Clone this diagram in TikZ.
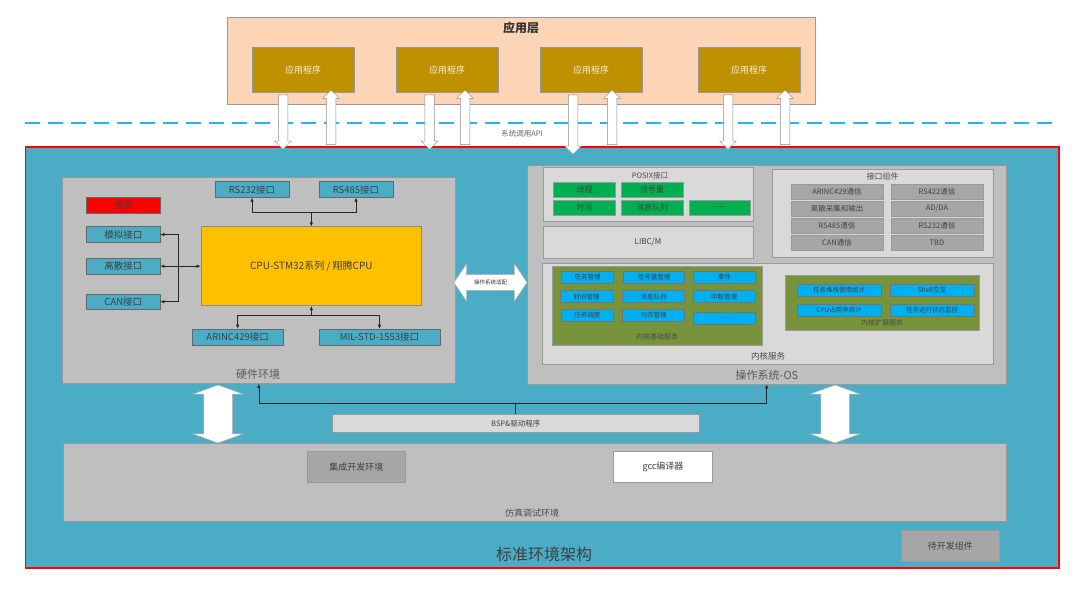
\documentclass[tikz,border=0pt]{standalone}
\usepackage{fontspec}
\setmainfont{Noto Sans CJK SC}
\usetikzlibrary{arrows.meta,shapes.arrows,positioning}
\definecolor{mainblue}{HTML}{4BACC6}
\definecolor{peach}{HTML}{FBD5B5}
\definecolor{gold}{HTML}{BF9000}
\definecolor{envgray}{HTML}{BFBFBF}
\definecolor{lightgray}{HTML}{D9D9D9}
\definecolor{midgray}{HTML}{A6A6A6}
\definecolor{cpuyellow}{HTML}{FFC000}
\definecolor{posixgreen}{HTML}{00B050}
\definecolor{olivegreen}{HTML}{77933C}
\definecolor{skyblue}{HTML}{00B0F0}
\definecolor{apiblue}{HTML}{26B4EC}
\newcommand\fs[1]{\fontsize{#1}{#1}\selectfont}

\begin{document}
\begin{tikzpicture}[x=1pt, y=-1pt,
    sz/.style 2 args={minimum width=#1, minimum height=#2},
    blk/.style={draw=black!40, line width=0.6pt, inner sep=0pt, text=black!75, font=\fs{9}},
    env/.style={blk, fill=envgray},
    hwbox/.style={blk, draw=black!60, fill=mainblue, font=\fs{9.5}},
    grn/.style={blk, fill=posixgreen, font=\fs{8}},
    cyn/.style={blk, draw=black!55, fill=skyblue, font=\fs{6.5}},
    ifbox/.style={blk, fill=midgray, font=\fs{7.5}},
    lbl/.style={inner sep=0pt, text=black!70},
    link/.style={draw=black!85, line width=0.7pt, -{Latex[length=4pt,width=3.5pt]}},
    apparrow/.style={single arrow, draw=black!45, fill=white, line width=0.5pt,
      inner sep=4.5pt, single arrow head extend=3.5pt, minimum height=#1},
    bigarrow/.style={double arrow, draw=black!30, fill=white, line width=0.5pt,
      inner sep=14pt, double arrow head extend=11pt, double arrow tip angle=140,
      minimum height=58}]
  \fill[white] (0,0) rectangle (1080,590);
  \useasboundingbox (0,0) rectangle (1080,590);

  % application layer
  \node[blk, fill=peach, sz={588}{87}] (applayer) at (521,60.5) {};
  \node[lbl, font=\fs{12}\bfseries, text=black!80] (apptitle) at (521,28) {应用层};
  \foreach \x [count=\i] in {303,447,591,749}
    \node[blk, fill=gold, text=white!85!gold, font=\fs{9}, sz={102}{45}] (app\i) at (\x,70) {应用程序};

  \coordinate (apil) at (25,123);
  \coordinate (apir) at (1057,123);
  \draw[apiblue, line width=2.2pt, dash pattern=on 15pt off 8pt] (apil) -- (apir);
  \node[lbl, font=\fs{7.5}, text=black!60] (api) at (522,134) {系统调用API};

  % standard environment
  \node[draw=red, line width=1.4pt, fill=mainblue, sz={1033.5}{421}] (std) at (542.25,357.5) {};
  \node[lbl, font=\fs{16}, text=black!75] (stdtitle) at (544,554) {标准环境架构};

  \foreach \x [count=\i] in {283,429.5,728}
    \node[apparrow=54.5, shape border rotate=270] (down\i) at (\x,119.75) {};
  \node[apparrow=59.5, shape border rotate=270] (down4) at (573,122.25) {};
  \foreach \x [count=\i] in {331,465,612,785}
    \node[apparrow=54.5, shape border rotate=90] (up\i) at (\x,119.75) {};

  % hardware
  \node[env, sz={392.3}{206.5}] (hw) at (258.85,280.25) {};
  \node[lbl, font=\fs{11}, text=black!65] (hwtitle) at (258,374) {硬件环境};
  \node[hwbox, fill=red, sz={73.3}{16}] (power) at (123.35,205.3) {电源};
  \node[hwbox, sz={73.3}{15.6}] (analog) at (123.35,234.5) {模拟接口};
  \node[hwbox, sz={73.3}{15.6}] (discrete) at (123.35,266.2) {离散接口};
  \node[hwbox, sz={73.3}{15.6}] (can) at (123.35,301.65) {CAN接口};
  \node[hwbox, sz={74}{15.6}] (rs232) at (252,189.5) {RS232接口};
  \node[hwbox, sz={73.7}{15.6}] (rs485) at (356,189.5) {RS485接口};
  \node[blk, draw=black!45, fill=cpuyellow, font=\fs{10}, sz={220.7}{79}] (cpu) at (311.35,266.2) {CPU-STM32系列 / 翔腾CPU};
  \node[hwbox, sz={91.3}{16}] (arinc) at (237.65,337) {ARINC429接口};
  \node[hwbox, sz={121}{16}] (mil) at (379.5,337) {MIL-STD-1553接口};

  \coordinate (tbus) at (311.35,212.3);
  \draw[link] (tbus) -| (rs232);
  \draw[link] (tbus) -| (rs485);
  \draw[link] (tbus) -- (tbus |- cpu.north);
  \coordinate (lbus) at (178.3,266.2);
  \draw[link] (lbus) |- (analog);
  \draw[link] (lbus) -- (discrete);
  \draw[link] (lbus) |- (can);
  \draw[link] (lbus) -- (lbus -| cpu.west);
  \coordinate (bbus) at (311.35,315.7);
  \draw[link] (bbus) -| (arinc);
  \draw[link] (bbus) -| (mil);
  \draw[link] (bbus) -- (bbus |- cpu.south);

  % operating system
  \node[env, sz={478.7}{218.7}] (os) at (766.65,274.65) {};
  \node[lbl, font=\fs{11}, text=black!65] (ostitle) at (767,375) {操作系统-OS};

  \node[blk, fill=lightgray, sz={210}{54.4}] (posix) at (648,194.5) {};
  \node[lbl, font=\fs{7.5}] (posixtitle) at (650,175.7) {POSIX接口};
  \node[grn, sz={62}{15}] (thread) at (584.5,189.5) {线程};
  \node[grn, sz={62}{15}] (sem) at (652,189.5) {信号量};
  \node[grn, sz={62}{15}] (time) at (584.5,207.5) {时间};
  \node[grn, sz={62}{15}] (msgq) at (652,207.5) {消息队列};
  \node[grn, sz={61}{15}] (pmore) at (719.5,207.5) {......};
  \node[blk, fill=lightgray, font=\fs{8}, sz={210}{31.6}] (libc) at (648,242.5) {LIBC/M};

  \node[blk, fill=lightgray, sz={221}{88.4}] (ifc) at (882.8,213.5) {};
  \node[lbl, font=\fs{8}] (ifctitle) at (882.7,176.7) {接口组件};
  \node[ifbox, sz={92}{15}] (if1) at (837,191.5) {ARINC429通信};
  \node[ifbox, sz={92}{15}] (if2) at (937,191.5) {RS422通信};
  \node[ifbox, sz={92}{15}] (if3) at (837,208.5) {离散采集和输出};
  \node[ifbox, sz={92}{15}] (if4) at (937,208.5) {AD/DA};
  \node[ifbox, sz={92}{14.5}] (if5) at (837,226) {RS485通信};
  \node[ifbox, sz={92}{14.5}] (if6) at (937,226) {RS232通信};
  \node[ifbox, sz={92}{15}] (if7) at (837,242.5) {CAN通信};
  \node[ifbox, sz={92}{15}] (if8) at (937,242.5) {TBD};

  \node[blk, fill=lightgray, sz={450.6}{101}] (kernel) at (768,313.8) {};
  \node[lbl, font=\fs{8.5}] (kerneltitle) at (768,356) {内核服务};
  \node[blk, fill=olivegreen, sz={210}{79}] (kbase) at (657,305.5) {};
  \node[lbl, font=\fs{7}] (kbasetitle) at (657,337.3) {内核基础服务};
  \node[cyn, sz={52.4}{12}] (taskm) at (587.5,277) {任务管理};
  \node[cyn, sz={61.4}{12}] (semm) at (654,277) {信号量管理};
  \node[cyn, sz={62}{12}] (event) at (724.3,277) {事件};
  \node[cyn, sz={53}{12}] (timem) at (586.5,296.7) {时间管理};
  \node[cyn, sz={61.6}{12}] (msgm) at (653.5,296.7) {消息队列};
  \node[cyn, sz={62}{12}] (irq) at (724,296.7) {中断管理};
  \node[cyn, sz={52}{12}] (sched) at (587.3,315.2) {任务调度};
  \node[cyn, sz={62}{12}] (mem) at (653.7,315.2) {内存管理};
  \node[cyn, sz={62}{12.3}] (kmore) at (724,318) {......};
  \node[blk, fill=olivegreen, sz={194}{54.3}] (kext) at (882,302.85) {};
  \node[lbl, font=\fs{7}] (kexttitle) at (882,323) {内核扩展服务};
  \node[cyn, sz={83.7}{12}] (stack) at (839.2,290) {任务堆栈使用统计};
  \node[cyn, sz={84}{12}] (shell) at (932,290) {Shell交互};
  \node[cyn, sz={83.7}{12}] (cpuuse) at (839.2,310) {CPU占用率统计};
  \node[cyn, sz={84}{12}] (monitor) at (932,310) {任务运行状态监控};

  \node[double arrow, draw=black!30, fill=white, line width=0.5pt, minimum height=73,
    inner xsep=2pt, inner ysep=5pt, double arrow head extend=11pt,
    double arrow tip angle=112, font=\fs{5.5}, text=black!80] (adapt) at (490.5,282.5) {操作系统适配};

  % simulation
  \node[blk, fill=lightgray, font=\fs{7.5}, sz={367.5}{18.7}] (bsp) at (515.75,423.35) {BSP\&驱动程序};
  \coordinate (bspj) at ([yshift=10pt]bsp.north);
  \draw[draw=black!85, line width=0.7pt] (bsp.north) -- (bspj);
  \draw[link] (bspj) -| (hw);
  \draw[link] (bspj) -| (os);

  \node[env, sz={943.7}{78.7}] (sim) at (534.85,482.35) {};
  \node[lbl, font=\fs{9}] (simtitle) at (532,513) {仿真调试环境};
  \node[blk, fill=midgray, sz={98.5}{31.7}] (ide) at (356.25,466.85) {集成开发环境};
  \node[blk, fill=white, sz={98.5}{31.7}] (gcc) at (663,466.85) {gcc编译器};
  \node[blk, fill=midgray, sz={98.5}{31.7}] (todo) at (950.25,545.85) {待开发组件};

  \node[bigarrow, shape border rotate=90] (hwsim) at (218,414) {};
  \node[bigarrow, shape border rotate=90] (ossim) at (835,414) {};
\end{tikzpicture}
\end{document}
